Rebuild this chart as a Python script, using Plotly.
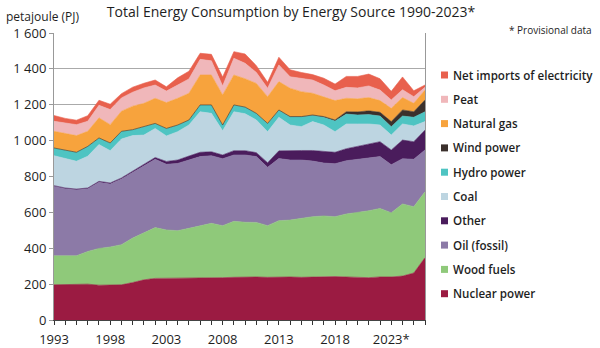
import plotly.graph_objects as go

years = list(range(1990, 2024))
x_tick_labels = ["1993", "1998", "2003", "2008", "2013", "2018", "2023*"]
y_tick_vals = [0, 200, 400, 600, 800, 1000, 1200, 1400, 1600]
y_tick_text = ["0", "200", "400", "600", "800", "1 000", "1 200", "1 400", "1 600"]

nuclear = [196, 197, 196, 200, 194, 193, 196, 209, 224, 232, 232, 232, 235, 233, 235, 236, 238,
           240, 240, 238, 240, 240, 238, 240, 242, 242, 240, 236, 236, 240, 240, 245, 262, 348]
wood = [162, 161, 162, 182, 205, 214, 224, 248, 263, 283, 270, 266, 276, 291, 304, 290, 312,
        305, 304, 288, 314, 317, 329, 336, 338, 334, 351, 362, 373, 382, 358, 402, 370, 367]
oil = [387, 374, 368, 350, 369, 351, 366, 365, 371, 381, 366, 375, 381, 387, 377, 373, 370,
       375, 367, 325, 346, 335, 325, 310, 295, 295, 297, 297, 294, 289, 268, 252, 264, 233]
other = [4, 4, 4, 4, 5, 6, 6, 7, 10, 10, 16, 19, 22, 24, 22, 21, 24,
         24, 22, 26, 43, 54, 53, 59, 65, 64, 67, 73, 77, 83, 82, 104, 98, 111]
coal = [167, 164, 155, 177, 205, 180, 217, 199, 163, 162, 142, 158, 173, 226, 214, 135, 217,
        206, 182, 173, 187, 141, 133, 161, 147, 115, 138, 125, 113, 93, 83, 90, 88, 47]
hydro = [43, 46, 50, 55, 37, 43, 43, 33, 47, 28, 42, 37, 28, 38, 47, 32, 38,
         37, 37, 46, 40, 45, 54, 34, 43, 59, 55, 50, 52, 50, 47, 44, 48, 55]
wind = [0, 0, 0, 0, 0, 0, 0, 0, 0, 0, 0, 0, 0, 0, 0, 0, 0,
        0, 0, 0, 1, 2, 2, 3, 4, 6, 13, 17, 21, 21, 28, 34, 31, 66]
gas = [93, 93, 93, 84, 112, 102, 112, 131, 130, 140, 144, 149, 149, 167, 167, 168, 167,
       158, 167, 149, 158, 158, 139, 121, 111, 108, 75, 73, 74, 65, 74, 69, 47, 55]
peat = [56, 60, 61, 56, 70, 84, 74, 78, 86, 74, 64, 74, 80, 87, 79, 50, 93,
        86, 61, 47, 93, 64, 74, 74, 65, 55, 61, 61, 65, 59, 47, 44, 37, 15]
net_imports = [32, 25, 25, 31, 28, 30, 24, 28, 26, 28, 24, 40, 43, 34, 36, 50, 37,
               52, 38, 33, 43, 39, 33, 30, 38, 37, 61, 64, 66, 63, 48, 71, 33, 13]

series = [
    ("Nuclear power", nuclear, "#9b1b42"),
    ("Wood fuels", wood, "#8fc97a"),
    ("Oil (fossil)", oil, "#8c7aa7"),
    ("Other", other, "#4a1c5c"),
    ("Coal", coal, "#bdd5e1"),
    ("Hydro power", hydro, "#4ec4c2"),
    ("Wind power", wind, "#3b302c"),
    ("Natural gas", gas, "#f7a33d"),
    ("Peat", peat, "#f0b7ba"),
    ("Net imports of electricity", net_imports, "#e8604d"),
]

fig = go.Figure()
for name, vals, col in series:
    fig.add_trace(go.Scatter(
        x=years, y=vals, name=name, stackgroup="one", mode="lines",
        line=dict(width=0.6, color=col), fillcolor=col, showlegend=False,
        hovertemplate=name + ": %{y}<extra></extra>"))

tick_text = [x_tick_labels[i // 5] if i % 5 == 0 else "" for i in range(len(years))]

W, H = 600, 348
ML, MR, MT, MB = 54, 175, 33, 28
PW, PH = W - ML - MR, H - MT - MB


def px_x(p):
    return (p - ML) / PW


def px_y(p):
    return (H - MB - p) / PH


FONT = "Open Sans"
TXT = "#1e1e1e"

# legend drawn as squares + labels, top to bottom
shapes = []
annotations = []
leg_top, leg_step = 75.0, 24.3
for k, (name, vals, col) in enumerate(reversed(series)):
    cy = leg_top + k * leg_step
    shapes.append(dict(type="rect", xref="paper", yref="paper",
                       x0=px_x(441), x1=px_x(448), y0=px_y(cy + 3.5), y1=px_y(cy - 3.5),
                       fillcolor=col, line=dict(width=0), layer="above"))
    annotations.append(dict(text=name, xref="paper", yref="paper", x=px_x(451), y=px_y(cy),
                            xanchor="left", yanchor="middle", showarrow=False,
                            font=dict(family=FONT, size=11.6, color=TXT, weight=600)))

annotations += [
    dict(text="petajoule (PJ)", xref="paper", yref="paper", x=px_x(4), y=px_y(16),
         xanchor="left", yanchor="middle", showarrow=False,
         font=dict(family=FONT, size=12, color=TXT)),
    dict(text="* Provisional data", xref="paper", yref="paper", x=px_x(594), y=px_y(30),
         xanchor="right", yanchor="middle", showarrow=False,
         font=dict(family=FONT, size=10, color=TXT)),
]

fig.update_layout(
    width=W, height=H,
    margin=dict(l=ML, r=MR, t=MT, b=MB, autoexpand=False),
    paper_bgcolor="white", plot_bgcolor="white",
    font=dict(family=FONT, color=TXT, size=13),
    showlegend=False,
    title=dict(text="Total Energy Consumption by Energy Source 1990-2023*",
               x=291 / W, xanchor="center", y=1 - 12 / H, yanchor="middle",
               font=dict(family=FONT, size=14, color=TXT)),
    xaxis=dict(range=[years[0], years[-1]], tickmode="array", tickvals=years,
               ticktext=tick_text, ticks="outside", ticklen=4, tickcolor="#333333",
               ticklabelstandoff=3, automargin=False,
               showline=True, linecolor="#444444", mirror=False, showgrid=False,
               zeroline=False, tickfont=dict(size=13)),
    yaxis=dict(range=[0, 1600], tickmode="array", tickvals=y_tick_vals,
               ticktext=y_tick_text, ticks="outside", ticklen=4, tickcolor="#999999",
               automargin=False,
               showline=True, linecolor="#999999", mirror=True,
               showgrid=True, gridcolor="#aaaaaa", gridwidth=1, zeroline=False,
               tickfont=dict(size=13)),
    shapes=shapes,
    annotations=annotations,
)

fig.write_html("out.html")
